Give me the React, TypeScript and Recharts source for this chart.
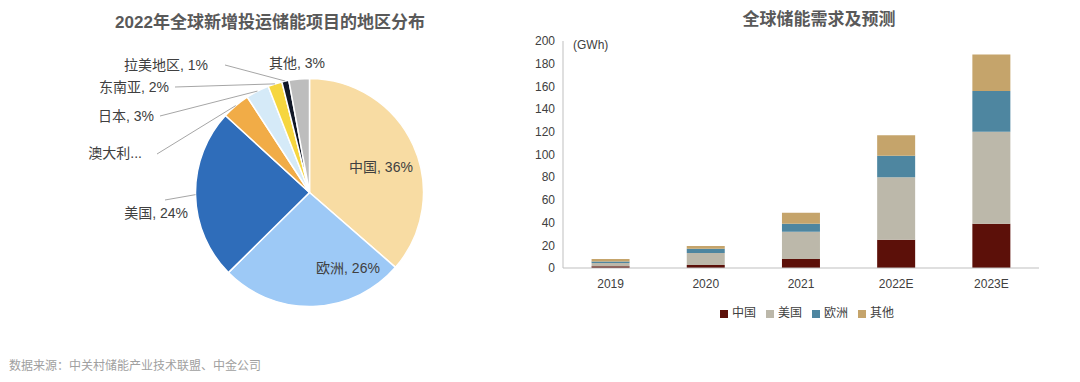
import React from 'react';
import { PieChart, Pie, Cell, BarChart, Bar, XAxis, YAxis, Legend } from 'recharts';

// ---------- Pie data ----------
const pieNames = ['中国', '欧洲', '美国', '澳大利亚', '日本', '东南亚', '拉美地区', '其他'];
const pieValues = [36.4, 26.2, 24.2, 4.0, 3.3, 2.0, 1.0, 2.9];
const pieLabels = ['中国, 36%', '欧洲, 26%', '美国, 24%', '澳大利...', '日本, 3%', '东南亚, 2%', '拉美地区, 1%', '其他, 3%'];
const pieColors = ['#F8DCA3', '#9DC9F6', '#2F6DBA', '#F1AC47', '#D5EAF8', '#F6D63F', '#111827', '#BDBDBD'];

// ---------- Bar data ----------
const years = ['2019', '2020', '2021', '2022E', '2023E'];
const chinaVals = [1.5, 2.6, 8, 25, 39];
const usVals = [2.8, 10.6, 24, 55, 81];
const europeVals = [1.5, 3.8, 7, 19, 36];
const otherVals = [2.2, 2.3, 9.6, 18, 32];
const yTicks = [0, 20, 40, 60, 80, 100, 120, 140, 160, 180, 200];
const seriesNames = ['中国', '美国', '欧洲', '其他'];
const seriesColors = ['#5C1009', '#BCB8AA', '#4E86A0', '#C5A46B'];

const pieData = pieNames.map((n, i) => ({ name: n, value: pieValues[i], label: pieLabels[i] }));
const barData = years.map((y, i) => ({
  year: y,
  china: chinaVals[i],
  us: usVals[i],
  europe: europeVals[i],
  other: otherVals[i],
}));

const FONT = '"Liberation Sans", Arial, "Noto Sans CJK SC", sans-serif';

// label layout: offsets from pie center (text position, optional leader-line start)
const labelLayout: { tx: number; ty: number; anchor: 'start' | 'middle' | 'end'; lx?: number; ly?: number }[] = [
  { tx: 71.5, ty: -25.5, anchor: 'middle' },
  { tx: 38.5, ty: 75.5, anchor: 'middle' },
  { tx: -121.5, ty: 20.5, anchor: 'end', lx: -144.5, ly: 7.5 },
  { tx: -167.5, ty: -39.5, anchor: 'end', lx: -152.5, ly: -38.5 },
  { tx: -155.5, ty: -76.5, anchor: 'end', lx: -149.5, ly: -76.5 },
  { tx: -140.5, ty: -105.5, anchor: 'end', lx: -134.5, ly: -105.5 },
  { tx: -101.5, ty: -127.5, anchor: 'end', lx: -84.5, ly: -127.5 },
  { tx: -40.5, ty: -129.5, anchor: 'start' },
];

const RAD = Math.PI / 180;

const renderPieLabel = (props: any) => {
  const { cx, cy, midAngle, outerRadius, index } = props;
  const lay = labelLayout[index];
  const text = pieLabels[index];
  const ex = cx + outerRadius * Math.cos(-midAngle * RAD);
  const ey = cy + outerRadius * Math.sin(-midAngle * RAD);
  return (
    <g key={`lbl-${index}`}>
      {lay.lx !== undefined && (
        <line x1={cx + lay.lx} y1={cy + (lay.ly as number)} x2={ex} y2={ey} stroke="#A6A6A6" strokeWidth={1} />
      )}
      <text
        x={cx + lay.tx}
        y={cy + lay.ty}
        textAnchor={lay.anchor}
        dominantBaseline="central"
        fill="#404040"
        fontSize={14}
        fontFamily={FONT}
      >
        {text}
      </text>
    </g>
  );
};

const legendOrder = (item: any) => seriesNames.indexOf(item && item.value);

export default function App() {
  return (
    <div
      style={{
        position: 'absolute',
        left: 0,
        top: 0,
        width: 1080,
        height: 382,
        background: '#ffffff',
        overflow: 'hidden',
        fontFamily: FONT,
      }}
    >
      <div
        style={{
          position: 'absolute',
          left: 0,
          top: 13,
          width: 540,
          textAlign: 'center',
          fontSize: 17,
          lineHeight: '20px',
          fontWeight: 'bold',
          color: '#595959',
        }}
      >
        2022年全球新增投运储能项目的地区分布
      </div>
      <div
        style={{
          position: 'absolute',
          left: 719,
          top: 10,
          width: 200,
          textAlign: 'center',
          fontSize: 17,
          lineHeight: '20px',
          fontWeight: 'bold',
          color: '#595959',
        }}
      >
        全球储能需求及预测
      </div>

      <div style={{ position: 'absolute', left: 0, top: 0 }}>
        <PieChart width={540} height={340} margin={{ top: 0, right: 0, bottom: 0, left: 0 }}>
          <Pie
            data={pieData}
            dataKey="value"
            nameKey="name"
            cx={309.5}
            cy={192.5}
            outerRadius={114}
            startAngle={90}
            endAngle={-270}
            stroke="#ffffff"
            strokeWidth={1.5}
            isAnimationActive={false}
            labelLine={false}
            label={renderPieLabel}
          >
            {pieData.map((d, i) => (
              <Cell key={d.name} fill={pieColors[i]} />
            ))}
          </Pie>
        </PieChart>
      </div>

      <div style={{ position: 'absolute', left: 0, top: 0 }}>
        <BarChart
          width={1080}
          height={382}
          data={barData}
          margin={{ top: 41, right: 41, left: 523, bottom: 84 }}
          barCategoryGap="30%"
        >
          <XAxis
            xAxisId="grid"
            type="number"
            domain={[0, 5]}
            ticks={[0, 1, 2, 3, 4, 5]}
            allowDataOverflow
            height={0}
            axisLine={false}
            tick={false}
            tickLine={{ stroke: '#BFBFBF' }}
            tickSize={4}
          />
          <XAxis
            xAxisId="cat"
            dataKey="year"
            height={30}
            tickLine={false}
            axisLine={{ stroke: '#BFBFBF' }}
            tick={{ fill: '#404040', fontSize: 12, fontFamily: FONT }}
            tickMargin={5}
          />
          <YAxis
            width={40}
            domain={[0, 200]}
            ticks={yTicks}
            tickLine={false}
            axisLine={{ stroke: '#BFBFBF' }}
            tick={{ fill: '#404040', fontSize: 12, fontFamily: FONT }}
            interval={0}
          />
          <Legend
            layout="horizontal"
            verticalAlign="middle"
            align="center"
            iconType="square"
            iconSize={8}
            itemSorter={legendOrder}
            wrapperStyle={{ left: 712, width: 200, top: 303, fontSize: 12, fontFamily: FONT }}
            formatter={(v: any) => <span style={{ color: '#404040' }}>{v}</span>}
          />
          <Bar xAxisId="cat" dataKey="china" name={seriesNames[0]} stackId="a" fill={seriesColors[0]} isAnimationActive={false} />
          <Bar xAxisId="cat" dataKey="us" name={seriesNames[1]} stackId="a" fill={seriesColors[1]} isAnimationActive={false} />
          <Bar xAxisId="cat" dataKey="europe" name={seriesNames[2]} stackId="a" fill={seriesColors[2]} isAnimationActive={false} />
          <Bar xAxisId="cat" dataKey="other" name={seriesNames[3]} stackId="a" fill={seriesColors[3]} isAnimationActive={false} />
        </BarChart>
      </div>

      <div
        style={{
          position: 'absolute',
          left: 573,
          top: 37,
          fontSize: 12,
          lineHeight: '16px',
          color: '#404040',
        }}
      >
        (GWh)
      </div>

      <div
        style={{
          position: 'absolute',
          left: 9,
          top: 358,
          fontSize: 12,
          lineHeight: '16px',
          color: '#A0A0A0',
        }}
      >
        数据来源：中关村储能产业技术联盟、中金公司
      </div>
    </div>
  );
}
